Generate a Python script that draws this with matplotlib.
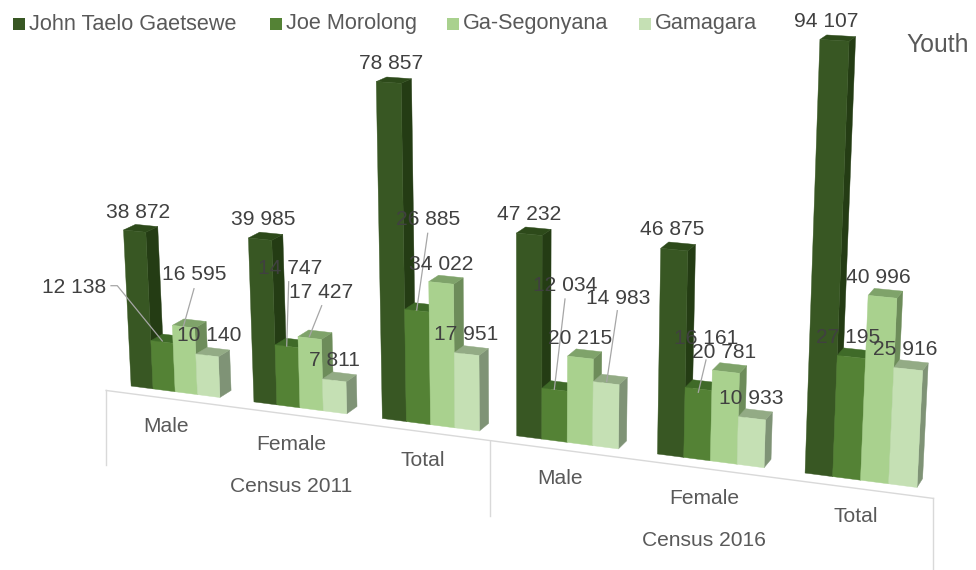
import numpy as np
import matplotlib
matplotlib.use('Agg')
import matplotlib.pyplot as plt
from matplotlib.patches import Polygon, Rectangle

plt.rcParams['font.family'] = ['Liberation Sans', 'DejaVu Sans']

municipalities = ['John Taelo Gaetsewe', 'Joe Morolong', 'Ga-Segonyana', 'Gamagara']
categories = ['Male', 'Female', 'Total', 'Male', 'Female', 'Total']
censuses = ['Census 2011', 'Census 2016']

john_taelo = [38872, 39985, 78857, 47232, 46875, 94107]
joe_morolong = [12138, 14747, 26885, 12034, 16161, 27195]
ga_segonyana = [16595, 17427, 34022, 20215, 20781, 40996]
gamagara = [10140, 7811, 17951, 14983, 10933, 25916]
series = [john_taelo, joe_morolong, ga_segonyana, gamagara]

# front, side, top
shades = [('#385723', '#243c14', '#2d4a1a'),
          ('#548235', '#3a5c24', '#3f6a28'),
          ('#a9d18e', '#6d8c5a', '#7fa36a'),
          ('#c5e0b4', '#7f9376', '#93ab85')]

GROUP_STEP = 5.5
FLOOR_W = -0.9

# perspective camera of the 3d chart: (bar units, value / 1e4, depth, 1) -> pixel
P = np.array([[21.3273722, -2.5588987, 13.0375131, 131.1326611],
              [1.2955294, -41.261957, -3.5167308, 386.0496721],
              [-0.0039484, -0.0048386, 0.0088318, 1.0]])


def project(u, v, w):
    p = P @ np.array([u, v / 1e4, w, 1.0])
    return p[0] / p[2], p[1] / p[2]


# label centres in pixels, one row per municipality
label_pos = [[(138.5, 210.7), (262.8, 217.7), (390.8, 62), (528.8, 213.3), (671.7, 228.3), (825.8, 20)],
             [(73.7, 286), (289.7, 267.3), (428, 218), (565.2, 284), (706.5, 336.7), (848.5, 335.7)],
             [(194.7, 273.3), (321.3, 290.7), (441.3, 262.7), (580.2, 336.7), (724, 351), (878, 275.7)],
             [(208.7, 334), (334.3, 359.3), (466, 333.3), (618.3, 296.7), (751, 396.7), (904.8, 347.7)]]

leaders = [[(111, 285.7), (117.3, 285.7), (162.3, 341)],
           [(194, 288.7), (183.3, 326.7)],
           [(288.7, 281.7), (286.7, 346)],
           [(321.7, 305.7), (309.3, 336.7)],
           [(427.7, 233.3), (416.7, 310)],
           [(565, 299), (554.3, 389.3)],
           [(617.3, 310.7), (606.7, 381.7)],
           [(706, 360), (698.3, 392.3)]]

cat_pos = [(166.3, 425), (291.7, 442.7), (422.7, 458.7), (560.3, 476.7), (704.3, 496.7), (856, 515)]
census_pos = [(291, 485), (704.3, 539)]
legend_x = [13, 269.5, 447, 639]

fig = plt.figure(figsize=(9.76, 5.7), dpi=100)
ax = fig.add_axes([0, 0, 1, 1])
ax.set_xlim(0, 976)
ax.set_ylim(570, 0)
ax.axis('off')

# floor line and separators
start = project(-0.65, 0, FLOOR_W)
mid = project(15.75, 0, FLOOR_W)
end = project(27.5 + 4.75, 0, FLOOR_W)
ax.plot([start[0], end[0]], [start[1], end[1]], color='#d9d9d9', lw=1, zorder=1)
for x, y in (start, mid, end):
    ax.plot([x, x], [y, y + 75], color='#d9d9d9', lw=1, zorder=1)

z = 2
for g in range(len(categories)):
    for i, vals in enumerate(series):
        u0 = g * GROUP_STEP + i
        u1 = u0 + 1
        v = vals[g]
        front, side, top = shades[i]
        ax.add_patch(Polygon([project(u1, 0, 0), project(u1, 0, 1), project(u1, v, 1), project(u1, v, 0)],
                             fc=side, ec=side, lw=0.3, zorder=z))
        ax.add_patch(Polygon([project(u0, v, 0), project(u1, v, 0), project(u1, v, 1), project(u0, v, 1)],
                             fc=top, ec=top, lw=0.3, zorder=z))
        ax.add_patch(Polygon([project(u0, 0, 0), project(u1, 0, 0), project(u1, v, 0), project(u0, v, 0)],
                             fc=front, ec=front, lw=0.3, zorder=z))
        z += 1

for pts in leaders:
    ax.plot([p[0] for p in pts], [p[1] for p in pts], color='#a6a6a6', lw=0.9, zorder=50)

for i, vals in enumerate(series):
    for g, v in enumerate(vals):
        txt = f'{v:,}'.replace(',', ' ')
        ax.text(label_pos[i][g][0], label_pos[i][g][1] + 1.5, txt, ha='center', va='center',
                fontsize=15.1, color='#404040', zorder=60)

for name, (x, y) in zip(categories, cat_pos):
    ax.text(x, y + 1.5, name, ha='center', va='center', fontsize=15.1, color='#595959')
for name, (x, y) in zip(censuses, census_pos):
    ax.text(x, y + 1.5, name, ha='center', va='center', fontsize=15.1, color='#595959')

for i, name in enumerate(municipalities):
    ax.add_patch(Rectangle((legend_x[i], 17.5), 12, 12, fc=shades[i][0], ec='none'))
    ax.text(legend_x[i] + 16, 24, name, ha='left', va='center', fontsize=15.6, color='#595959')

ax.text(906, 45, 'Youth', ha='left', va='center', fontsize=17.8, color='#595959')

fig.savefig('out.png', dpi=100)
